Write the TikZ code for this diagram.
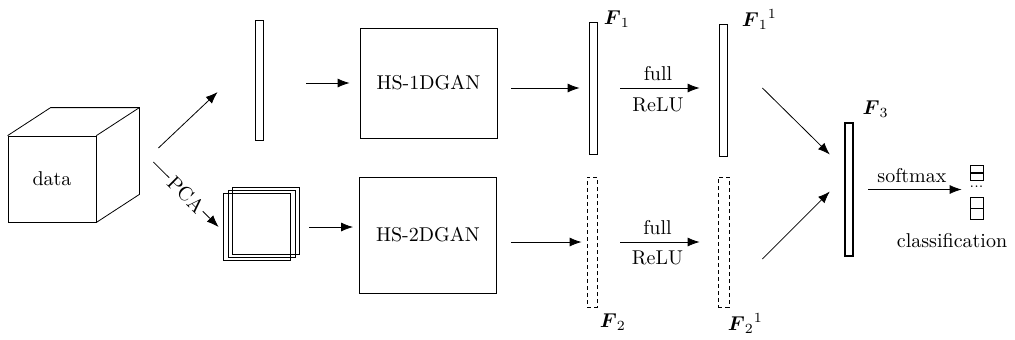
\documentclass[tikz,border=0pt]{standalone}
\usepackage{amsmath}
\usetikzlibrary{positioning, arrows.meta}
\tikzset{
  box1/.style = {
    shape = rectangle,
    draw = black,
    minimum width = 68.5pt,
    minimum height = 55pt,
    inner sep = 0pt,
  }
}
\tikzset{
  bar1/.style = {
    shape = rectangle,
    draw = black,
    minimum width = 4pt,
    minimum height = 66pt,
    inner sep = 0pt,
  },
  bar2/.style = {
    bar1, dash pattern = on 2pt off 1.5pt,
    minimum width = 5pt, minimum height = 65pt,
  },
  band1/.style = {
    shape = rectangle, draw = black, minimum size = 33.5pt, inner sep = 0pt,
  },
  cell1/.style = {
    shape = rectangle, draw = black, minimum width = 6.5pt, inner sep = 0pt,
  }
}
\tikzset{
  arrow1/.style = {
    draw = black, -{Latex[length = 6pt, width = 4.5pt]},
  }
}

\begin{document}
\begin{tikzpicture}[x=0.5pt, y=-0.5pt]
        \useasboundingbox (0,0) rectangle (1015,339);
        % data cube
        \node[shape = rectangle, draw, minimum width = 44pt, minimum height = 43pt](data) at (52,179){data};
        \draw (data.north west) -- ++(43,-28) -- ([shift={(43,-28)}]data.north east)
              -- ([shift={(43,-28)}]data.south east) -- (data.south east);
        \draw (data.north east) -- ++(43,-28);
        % spectral vector and PCA bands
        \node[bar1, minimum height = 60pt](vec1) at (259,80){};
        \node[band1](band1) at (265.5,221){};
        \node[band1](band2) at (261.5,224){};
        \node[band1](band3) at (256.5,227){};
        % GAN blocks
        \node[box1](gan1) at (428.5,83){HS-1DGAN};
        \node[box1, minimum height = 58pt](gan2) at (428,235){HS-2DGAN};
        % feature vectors
        \node[bar1](f1) at (593,88){};
        \node[bar1](f11) at (723,90){};
        \node[bar2](f2) at (592,242){};
        \node[bar2, minimum width = 5.5pt](f21) at (723.5,242){};
        \node[bar1, line width = 1.2pt, minimum height = 66.5pt](f3) at (849,189.5){};
        \node[anchor = west, inner sep = 1pt](lf1) at ([xshift = 2pt, yshift = 1pt]f1.north east){$\boldsymbol{F}_1$};
        \node[anchor = west, inner sep = 1pt](lf11) at ([xshift = 6pt, yshift = 2pt]f11.north east){$\boldsymbol{F}_1{}^1$};
        \node[anchor = north west, inner sep = 1pt](lf2) at ([xshift = 0pt, yshift = -2pt]f2.south east){$\boldsymbol{F}_2$};
        \node[anchor = north west, inner sep = 1pt](lf21) at ([xshift = -2pt, yshift = -2pt]f21.south east){$\boldsymbol{F}_2{}^1$};
        \node[anchor = south west, inner sep = 1pt](lf3) at ([xshift = 3pt, yshift = 1pt]f3.north east){$\boldsymbol{F}_3$};
        % class scores
        \node[cell1, minimum height = 3.75pt](c1) at (976.5,168.75){};
        \node[cell1, minimum height = 3.75pt, below = 0pt of c1](c2){};
        \node[font = \scriptsize, inner sep = 0pt](dots) at (976.5,187){...};
        \node[cell1, minimum height = 5.5pt](c3) at (976.5,202.5){};
        \node[cell1, minimum height = 5.5pt, below = 0pt of c3](c4){};
        \node(cls) at (952,241){classification};
        % connections
        \draw[arrow1]([xshift = 31pt, yshift = 15.5pt]data.east) -- ([xshift = -18.5pt, yshift = -6pt]vec1.west);
        \draw[arrow1]([xshift = 28.5pt, yshift = 8.5pt]data.east) -- node[sloped, fill = white, inner sep = 1pt]{PCA} ([xshift = -2pt]band3.west);
        \draw[arrow1, shorten <= 21.5pt, shorten >= 5pt](vec1.east |- gan1.west) -- (gan1.west);
        \draw[arrow1, shorten <= 9.5pt, shorten >= 3pt](band3.east) -- (band3.east -| gan2.west);
        \draw[arrow1, shorten <= 7pt, shorten >= 4.5pt](gan1.east |- f1.west) -- (f1.west);
        \draw[arrow1, shorten <= 7pt, shorten >= 2.5pt](gan2.east |- f2.west) -- (f2.west);
        \draw[arrow1, shorten <= 11.5pt, shorten >= 9.5pt](f1.east) -- node[above]{full} node[below, yshift = -1.5pt]{ReLU} (f1.east -| f11.west);
        \draw[arrow1, shorten <= 11.5pt, shorten >= 9pt](f2.east) -- node[above]{full} node[below, yshift = -1pt]{ReLU} (f2.east -| f21.west);
        \draw[arrow1]([xshift = 17.5pt, yshift = 1pt]f11.east) -- ([xshift = -7pt, yshift = 17.5pt]f3.west);
        \draw[arrow1]([xshift = 16.5pt, yshift = -8.5pt]f21.east) -- ([xshift = -7pt, yshift = -1pt]f3.west);
        \draw[arrow1, shorten <= 7pt, shorten >= 4pt](f3.east) -- node[above]{softmax} (f3.east -| c3.west);
    \end{tikzpicture}
\end{document}
